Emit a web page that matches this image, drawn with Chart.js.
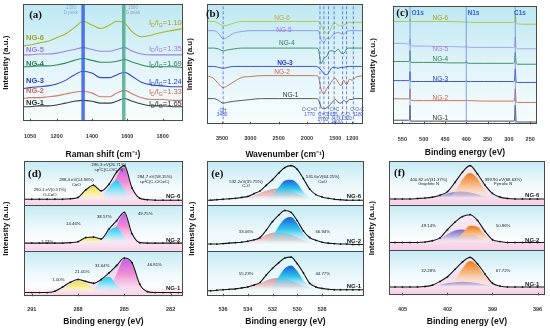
<!DOCTYPE html>
<html>
<head>
<meta charset="utf-8">
<script src="https://cdn.jsdelivr.net/npm/chart.js@4.4.1/dist/chart.umd.min.js"></script>
<style>
  html, body { margin: 0; padding: 0; background: #fff; }
  #figura { position: relative; width: 550px; height: 330px; overflow: hidden; background: #fff; }
  #figura canvas { position: absolute; }
</style>
</head>
<body>
<div id="figura"></div>
<script>
var nomes = ['NG-1', 'NG-2', 'NG-3', 'NG-4', 'NG-5', 'NG-6'];

// (a) Raman
var ramanX = [1010, 1050, 1100, 1150, 1200, 1250, 1300, 1350, 1400, 1450, 1500, 1540, 1585, 1630, 1680, 1740, 1800, 1860, 1915];
var ramanNG1 = [16, 16, 17, 17, 18, 20, 22, 23, 22, 20, 20, 22, 25, 22, 19, 17, 17, 16, 16];
var ramanNG2 = [25, 26, 26, 27, 28, 30, 32, 33, 31, 27, 27, 31, 34, 30, 26, 24, 24, 23, 23];
var ramanNG3 = [36, 37, 38, 39, 41, 45, 51, 55, 53, 48, 48, 51, 54, 49, 43, 40, 39, 38, 38];
var ramanNG4 = [60, 60, 61, 61, 62, 64, 67, 69, 67, 65, 65, 66, 68, 65, 62, 60, 60, 60, 59];
var ramanNG5 = [73, 73, 74, 74, 75, 77, 79, 81, 79, 77, 77, 79, 81, 77, 74, 73, 73, 73, 73];
var ramanNG6 = [83, 84, 86, 88, 92, 96, 103, 110, 106, 102, 106, 110, 108, 98, 93, 95, 98, 100, 102];
var ramanTicks = [1050, 1200, 1400, 1600, 1800];
var ramanPicoD = 1350;
var ramanPicoG = 1580;
var ramanRazao = ['1.65', '1.33', '1.24', '1.69', '1.35', '1.10'];

// (b) FTIR
var ftirX = [3770, 3650, 3560, 3480, 3400, 3300, 3150, 3000, 2800, 2500, 2200, 2000, 1900, 1850, 1800, 1750, 1700, 1650, 1600, 1550, 1500, 1450, 1400, 1350, 1300, 1250, 1200, 1150, 1100, 1010];
var ftirNG1 = [26, 26, 24, 21, 22, 23, 24, 25, 26, 26, 26, 26, 26, 26, 25, 17, 15, 16, 19, 22, 25, 22, 21, 24, 22, 25, 25, 26, 26, 26];
var ftirNG2 = [51, 48, 42, 38, 40, 44, 49, 50, 51, 51, 51, 51, 51, 51, 50, 36, 31, 37, 41, 46, 48, 44, 40, 46, 41, 47, 46, 49, 50, 51];
var ftirNG3 = [61, 61, 60, 59, 60, 61, 61, 61, 61, 61, 61, 61, 61, 61, 60, 57, 53, 52, 56, 60, 60, 59, 60, 60, 61, 61, 61, 61, 61, 61];
var ftirNG4 = [81, 81, 80, 78, 79, 80, 81, 81, 81, 81, 81, 81, 81, 81, 80, 64, 70, 72, 78, 78, 77, 80, 76, 75, 80, 81, 81, 81, 81, 81];
var ftirNG5 = [100, 100, 97, 91, 93, 97, 99, 100, 100, 100, 100, 100, 100, 100, 100, 90, 87, 92, 91, 95, 97, 98, 97, 96, 99, 100, 100, 100, 100, 100];
var ftirNG6 = [110, 110, 108, 105, 106, 108, 110, 110, 110, 110, 110, 110, 110, 110, 110, 106, 100, 97, 99, 106, 108, 106, 105, 106, 108, 109, 109, 109, 109, 109];
var ftirTicks = [3500, 3000, 2500, 2000, 1500, 1200];
var ftirBandas = [3480, 1770, 1700, 1620, 1520, 1370, 1300, 1180];

// (c) XPS survey
var surveyX = [572, 555, 540, 535, 533, 532, 531, 529, 520, 500, 470, 440, 410, 402, 400, 398, 390, 360, 330, 300, 290, 287, 285, 283, 280, 265, 250, 234];
var surveyNG1 = [4.5, 4.5, 4.5, 4.5, 5.5, 21, 5, 3.5, 3.5, 3.5, 3.5, 3.5, 3.5, 3.5, 4.5, 3.5, 3.5, 3.5, 3.5, 3.5, 3.5, 4, 21, 3, 2.5, 2.5, 2.5, 2.5];
var surveyNG2 = [28, 28, 28, 28, 29, 39, 28, 26.5, 26, 26, 26, 26, 26, 26, 27, 26, 26, 25.5, 25.5, 25.5, 25.5, 26, 39, 24.5, 24, 24, 24, 24];
var surveyNG3 = [48, 48, 48, 48, 49, 58, 48, 47, 47, 47, 47, 47, 47, 47, 48, 47, 47, 47, 47, 47, 47, 47.5, 61, 46.5, 46, 46, 46, 46];
var surveyNG4 = [69, 69, 69, 69, 70, 81, 70, 68, 68, 68, 68, 67.5, 67.5, 67.5, 69, 67.5, 67, 67, 67, 67, 67, 68, 79, 67, 66, 66, 66, 66];
var surveyNG5 = [89, 89, 88.5, 88, 89, 94, 88, 86.5, 86, 86, 85.5, 85.5, 85, 85, 86, 85, 84.5, 84.5, 84.5, 84.5, 84.5, 85, 96, 84, 83, 83, 83, 83];
var surveyNG6 = [113, 113, 113, 113, 113.5, 116, 113.5, 113, 113, 113, 113, 113, 112.5, 112.5, 113, 112.5, 112, 112, 112, 112, 112, 112.5, 121, 112, 110.5, 110, 110, 110];
var surveyTicks = [550, 500, 450, 400, 350, 300, 250];
var surveyPicos = [532, 400, 285];

// (d) C1s  (valores por sub-painel, NG-1 / NG-2 / NG-6)
var c1sX = [291.5, 291, 290.5, 290, 289.5, 289, 288.5, 288, 287.5, 287, 286.5, 286, 285.5, 285, 284.5, 284, 283.5, 283, 282.5, 282, 281.5, 281];
var c1sNG1Env = [4, 4, 4, 4, 5.5, 10, 15, 18, 16, 14, 18, 25, 33, 41, 36, 13, 5, 4, 4, 4, 4, 4];
var c1sNG1CO = [4, 4, 4, 4, 5, 8, 13, 16, 14, 9, 5, 4, 4, 4, 4, 4, 4, 4, 4, 4, 4, 4];
var c1sNG1Sp3 = [4, 4, 4, 4, 4, 4, 4, 4, 4.5, 7, 17, 21, 12, 6, 4, 4, 4, 4, 4, 4, 4, 4];
var c1sNG1Sp2 = [4, 4, 4, 4, 4, 4, 4, 4, 4, 4, 5, 9, 24, 40, 35, 13, 5, 4, 4, 4, 4, 4];
var c1sNG2Env = [8, 8, 8, 8, 8, 8, 8.5, 9.5, 14, 14.5, 12.5, 23, 32, 41, 18, 8.5, 8, 8, 8, 8, 8, 8];
var c1sNG2CO = [8, 8, 8, 8, 8, 8, 8, 9, 14, 14, 10, 8, 8, 8, 8, 8, 8, 8, 8, 8, 8, 8];
var c1sNG2Sp3 = [8, 8, 8, 8, 8, 8, 8, 8, 8, 8, 10, 21, 25, 14, 8, 8, 8, 8, 8, 8, 8, 8];
var c1sNG2Sp2 = [8, 8, 8, 8, 8, 8, 8, 8, 8, 8, 8, 9, 27, 40, 16, 8, 8, 8, 8, 8, 8, 8];
var c1sNG6Env = [6, 6, 6, 6, 6, 6, 6.5, 8, 16, 21, 15, 22, 35, 42, 18, 7, 5.5, 5, 5, 5, 5, 5];
var c1sNG6CO = [6, 6, 6, 6, 6, 6, 6, 8, 15, 20, 12, 7, 6, 6, 6, 6, 5.5, 5, 5, 5, 5, 5];
var c1sNG6Sp3 = [6, 6, 6, 6, 6, 6, 6, 6, 6, 6, 9, 19, 26, 16, 7, 6, 5.5, 5, 5, 5, 5, 5];
var c1sNG6Sp2 = [6, 6, 6, 6, 6, 6, 6, 6, 6, 6, 6, 9, 30, 40, 16, 6.5, 5.5, 5, 5, 5, 5, 5];
var c1sTicks = [291, 288, 285, 282];

// (e) O1s
var o1sX = [537.5, 537, 536.5, 536, 535.5, 535, 534.5, 534, 533.5, 533, 532.5, 532, 531.5, 531, 530.5, 530, 529.5, 529, 528.5, 528, 527.5, 527, 526.5, 526, 525.5, 525, 524.5];
var o1sNG1Env = [6, 6, 6.5, 7, 7.5, 8, 9, 10, 12, 15, 23, 30, 36, 41, 42, 35, 25, 14, 10, 8.5, 7.5, 7, 7, 7, 7, 7, 7];
var o1sNG1CO = [6, 6, 6.5, 7, 7.5, 8, 9, 10, 12, 14, 17, 19, 19.5, 19, 17, 14, 11, 9, 8, 7, 7, 7, 7, 7, 7, 7, 7];
var o1sNG1CdO = [6, 6, 6, 6, 6, 6, 6, 6, 6, 6.5, 7, 12, 21, 30, 33, 27, 17, 10, 7.5, 7, 7, 7, 7, 7, 7, 7, 7];
var o1sNG2Env = [7, 7, 7, 7.5, 8, 8.5, 9, 10, 11.5, 14, 22, 31, 38, 43, 41, 32, 21, 14, 11, 9, 8, 7.5, 7, 7, 6.5, 6.5, 6.5];
var o1sNG2CO = [7, 7, 7, 7.5, 8, 8.5, 9, 10, 11.5, 13.5, 17, 19, 20, 19, 17, 14, 11, 9, 8, 7.5, 7, 7, 7, 7, 6.5, 6.5, 6.5];
var o1sNG2CdO = [7, 7, 7, 7, 7, 7, 7, 7, 7, 7.5, 9, 15, 26, 34, 36, 29, 18, 11, 8, 7, 7, 7, 7, 7, 6.5, 6.5, 6.5];
var o1sNG6Env = [5, 5, 5.5, 6, 6.5, 7, 8, 9, 12, 15, 21, 27, 34, 40, 42, 38, 28, 17, 11, 8.5, 7, 6, 5.5, 5, 5, 5, 5];
var o1sNG6CO = [5, 5, 5.5, 6, 6, 6, 7, 8, 10, 13, 15, 17, 17.5, 17, 15, 12, 9, 7, 6, 5.5, 5, 5, 5, 5, 5, 5, 5];
var o1sNG6CdO = [5, 5, 5, 5, 5, 5, 5, 5, 5, 5, 6, 11, 19, 26, 27, 23, 14, 8, 6, 5, 5, 5, 5, 5, 5, 5, 5];
var o1sTicks = [536, 534, 532, 530, 528];

// (f) N1s
var n1sX = [406, 405.5, 405, 404.5, 404, 403.5, 403, 402.5, 402, 401.5, 401, 400.5, 400, 399.5, 399, 398.5, 398, 397.5, 397, 396.5, 396, 395.5];
var n1sNG1Env = [9, 9, 9, 9, 9, 9.5, 11, 15, 20, 28, 36, 41, 34, 23, 13, 10, 9, 9, 9, 9, 9, 9];
var n1sNG1Graf = [9, 9, 9, 9, 9, 9, 10, 11.5, 13, 14, 14.5, 14, 13, 11.5, 10, 9, 9, 9, 9, 9, 9, 9];
var n1sNG1Pirr = [9, 9, 9, 9, 9, 9, 9, 9, 10, 17, 29, 37, 32, 20, 12, 10, 9, 9, 9, 9, 9, 9];
var n1sNG2Env = [8, 8, 8, 8, 8, 8.5, 10, 13, 22, 30, 36, 38, 32, 20, 11, 9, 8, 8, 8, 8, 8, 8];
var n1sNG2Graf = [8, 8, 8, 8, 8, 8, 9, 12, 17, 21, 22, 19, 14, 10, 8, 8, 8, 8, 8, 8, 8, 8];
var n1sNG2Pirr = [8, 8, 8, 8, 8, 8, 8, 8, 8, 10, 18, 26, 25, 16, 10, 8.5, 8, 8, 8, 8, 8, 8];
var n1sNG6Env = [6, 6, 6, 6, 6.5, 7, 8, 10, 14, 24, 35, 42, 33, 21, 12, 8, 6.5, 6, 6, 6, 6, 6];
var n1sNG6Graf = [6, 6, 6, 6, 6, 6.5, 7, 9, 12, 13.5, 14, 13, 11, 8.5, 7, 6, 6, 6, 6, 6, 6, 6];
var n1sNG6Pirr = [6, 6, 6, 6, 6, 6, 6, 6, 7, 14, 27, 34, 28, 15, 8, 6.5, 6, 6, 6, 6, 6, 6];
var n1sTicks = [405, 402, 399, 396];

var offsetSub = [0, 49, 98];   // NG-1, NG-2, NG-6

const SANS = "'Liberation Sans', Arial, sans-serif";
const SERIF = "'Liberation Serif', 'Times New Roman', serif";
Chart.defaults.font.family = SANS;
Chart.defaults.color = '#222';

const coresLinha = ['#3d3d3d', '#d27d62', '#3446cc', '#2f8a5e', '#9c84dc', '#a9b526'];
const coresTexto = ['#333333', '#d0644c', '#2a3ccc', '#2f7d55', '#9f7ae0', '#a3a11c'];

const serie = function (xs, ys, off, extra) {
    return Object.assign({
        data: xs.map((x, i) => ({ x: x, y: ys[i] + off })),
        borderWidth: 1, pointRadius: 0, fill: false,
        tension: 0.4, cubicInterpolationMode: 'monotone', order: 1
    }, extra);
}

const linhasVerticais = function (valores, y0, y1, extra) {
    const pts = [];
    valores.forEach(v => pts.push({ x: v, y: y0 }, { x: v, y: y1 }, { x: v, y: null }));
    return Object.assign({ data: pts, pointRadius: 0, tension: 0, fill: false, order: 0 }, extra);
}

const gradiente = function (stops) {
    return function (c) {
        const ch = c.chart;
        if (!ch.chartArea) return 'transparent';
        const ys = ch.data.datasets[c.datasetIndex].data.map(p => p.y);
        const top = ch.scales.y.getPixelForValue(Math.max(...ys));
        const bot = ch.scales.y.getPixelForValue(Math.min(...ys));
        const g = ch.ctx.createLinearGradient(0, top, 0, bot + 0.01);
        stops.forEach(s => g.addColorStop(s[0], s[1]));
        return g;
    };
}

const conjuntoXPS = function (xs, env, comps, off, estilo) {
    const ds = [serie(xs, env, off, { borderWidth: 0, fill: { value: off }, backgroundColor: gradiente(estilo.fundo), order: 9 })];
    comps.forEach((c, i) => ds.push(serie(xs, c, off, { borderWidth: 0, fill: { value: off }, backgroundColor: gradiente(estilo.comps[i]), order: 8 - i })));
    ds.push(serie(xs, env, off, { borderColor: '#161616', borderWidth: 1.1, pointRadius: 0.9, pointBackgroundColor: '#161616', pointBorderWidth: 0, order: 1 }));
    return ds;
}

const desenharNotas = function (chart, notas) {
    const { ctx, scales } = chart;
    notas.forEach(n => {
        const px = scales.x.getPixelForValue(n.x);
        const py = scales.y.getPixelForValue(n.y);
        const fam = n.serif ? SERIF : SANS;
        const peso = n.w || 'normal';
        ctx.fillStyle = n.c || '#222';
        ctx.textBaseline = 'middle';
        if (n.razao) {
            const partes = [['I', 0], ['D', 1], ['/I', 0], ['G', 1], ['=' + n.razao, 0]];
            const fonte = sub => peso + ' ' + (sub ? n.s * 0.68 : n.s) + 'px ' + fam;
            let total = 0;
            partes.forEach(p => { ctx.font = fonte(p[1]); total += ctx.measureText(p[0]).width; });
            let cx = n.a === 'right' ? px - total : px;
            ctx.textAlign = 'left';
            partes.forEach(p => {
                ctx.font = fonte(p[1]);
                ctx.fillText(p[0], cx, py + (p[1] ? n.s * 0.3 : 0));
                cx += ctx.measureText(p[0]).width;
            });
        } else {
            ctx.font = peso + ' ' + n.s + 'px ' + fam;
            ctx.textAlign = n.a || 'center';
            ctx.fillText(n.t, px, py);
        }
    });
}

const painelPlugin = {
    id: 'painel',
    beforeDatasetsDraw(chart, args, o) {
        const { ctx, chartArea: a, scales: { y } } = chart;
        ctx.save();
        o.faixas.forEach(f => {
            const top = y.getPixelForValue(f[1]), bot = y.getPixelForValue(f[0]);
            const g = ctx.createLinearGradient(0, top, 0, bot);
            o.fundo.forEach(s => g.addColorStop(s[0], s[1]));
            ctx.fillStyle = g;
            ctx.fillRect(a.left, top, a.right - a.left, bot - top);
        });
        ctx.restore();
    },
    afterDatasetsDraw(chart, args, o) {
        const { ctx, chartArea: a, scales: { x, y } } = chart;
        ctx.save();
        ctx.strokeStyle = '#4a4a4a';
        ctx.lineWidth = 1;
        ctx.beginPath();
        (o.divisorias || []).forEach(v => {
            const py = Math.round(y.getPixelForValue(v)) + 0.5;
            ctx.moveTo(a.left, py); ctx.lineTo(a.right, py);
        });
        x.ticks.forEach(t => {
            const px = Math.round(x.getPixelForValue(t.value)) + 0.5;
            ctx.moveTo(px, a.bottom); ctx.lineTo(px, a.bottom - 2.5);
        });
        ctx.stroke();
        ctx.strokeRect(Math.round(a.left) + 0.5, Math.round(a.top) + 0.5, Math.round(a.right - a.left) - 1, Math.round(a.bottom - a.top) - 1);
        desenharNotas(chart, o.notas);
        ctx.restore();
    }
};

const criarPainel = function (p) {
    const c = document.createElement('canvas');
    c.width = p.box.w; c.height = p.box.h;
    c.style.left = p.box.x + 'px'; c.style.top = p.box.y + 'px';
    document.getElementById('figura').appendChild(c);

    const yl = 9.6, xl = 6.6, tl = 10.2;
    const yTop = p.yTitleX - p.box.x - yl / 2;
    const yBot = p.area.l - p.box.x - yl - yTop;
    const tickPad = p.tickY - p.area.b - xl / 2;
    const tTop = p.titleY - tl / 2 - (p.area.b + tickPad + xl);
    const padB = p.box.y + p.box.h - (p.titleY + tl / 2 + 1);

    return new Chart(c, {
        type: 'line',
        data: { datasets: p.datasets },
        options: {
            responsive: false, animation: false, devicePixelRatio: 1,
            layout: { autoPadding: false, padding: { left: 0, top: p.area.t - p.box.y, right: p.box.x + p.box.w - p.area.r, bottom: padB } },
            plugins: {
                legend: { display: false }, tooltip: { enabled: false },
                painel: { fundo: p.fundo, faixas: p.faixas, divisorias: p.divisorias, notas: p.notas }
            },
            scales: {
                x: {
                    type: 'linear', min: p.xMin, max: p.xMax, reverse: p.reverse,
                    grid: { display: false }, border: { display: false },
                    afterBuildTicks: s => { s.ticks = p.ticks.map(v => ({ value: v })); },
                    ticks: { padding: tickPad, autoSkip: false, maxRotation: 0, color: '#333', font: { size: 5.5, weight: 'bold' }, callback: v => String(v) },
                    title: { display: true, text: p.xTitle, color: '#111', font: { size: 8.5, weight: 'bold' }, padding: { top: tTop, bottom: 1 } }
                },
                y: {
                    min: p.yMin, max: p.yMax,
                    grid: { display: false }, border: { display: false }, ticks: { display: false },
                    title: { display: true, text: p.yTitle, color: '#111', font: { size: 8, weight: 'bold' }, padding: { top: yTop, bottom: yBot } }
                }
            }
        },
        plugins: [painelPlugin]
    });
}

const fundoTopo = [[0, '#bfe8f2'], [0.55, '#e3f5fa'], [1, '#f8fdfe']];
const fundoRosa = [[0, '#c4eaf4'], [0.5, '#eef9fc'], [0.8, '#fdfdfe'], [1, '#f6d6e6']];
const fundoAzul = [[0, '#c4eaf4'], [0.6, '#eef9fc'], [1, '#f7fbfd']];

const notasNG = function (xs, ys, tam, alinh, pesos) {
    return nomes.map((n, i) => ({ t: n, x: xs[i], y: ys[i], s: tam, a: alinh, c: coresTexto[i], w: pesos ? pesos[i] : 'bold' }));
}

// ----- (a) -----
const ramanSeries = [ramanNG1, ramanNG2, ramanNG3, ramanNG4, ramanNG5, ramanNG6];
const dsA = ramanSeries.map((s, i) => serie(ramanX, s, 0, { borderColor: coresLinha[i], borderWidth: 1.1 }));
dsA.push(linhasVerticais([ramanPicoD], 0, 129, { borderColor: 'rgba(55,95,225,0.85)', borderWidth: 3.5 }));
dsA.push(linhasVerticais([ramanPicoG], 0, 129, { borderColor: 'rgba(70,165,135,0.8)', borderWidth: 3.5 }));
const notasA = [
    { t: '(a)', x: 1081, y: 117, s: 11, w: 'bold', serif: true, c: '#111' },
    { t: '1350', x: 1281, y: 125, s: 4.5, c: '#86aaf0' },
    { t: 'D peak', x: 1281, y: 119, s: 4.5, c: '#86aaf0' },
    { t: '1580', x: 1632, y: 125, s: 4.5, c: '#93a6ba' },
    { t: 'G peak', x: 1632, y: 119, s: 4.5, c: '#93a6ba' }
].concat(notasNG([1027, 1027, 1027, 1027, 1027, 1027], [20, 33, 44, 63, 78, 92], 7.5, 'left'))
 .concat(ramanRazao.map((r, i) => ({ razao: r, x: 1908, y: [19, 32, 43, 63, 80, 108][i], s: 7.5, a: 'right', c: coresTexto[i] })));

criarPainel({
    box: { x: 0, y: 0, w: 185, h: 166 }, area: { l: 15, t: 4, r: 183, b: 133 },
    yTitleX: 6, tickY: 140, titleY: 155,
    xMin: 1010, xMax: 1915, reverse: false, yMin: 0, yMax: 129, ticks: ramanTicks,
    xTitle: 'Raman shift (cm⁻¹)', yTitle: 'Intensity (a.u.)',
    datasets: dsA, fundo: fundoTopo, faixas: [[0, 129]], notas: notasA
});

// ----- (b) -----
const ftirSeries = [ftirNG1, ftirNG2, ftirNG3, ftirNG4, ftirNG5, ftirNG6];
const coresB = ['#4a4a4a', '#c0694a', '#2f3fd0', '#2e8b5a', '#8f8fe8', '#aac83a'];
const dsB = ftirSeries.map((s, i) => serie(ftirX, s, 0, { borderColor: coresB[i], borderWidth: 0.9 }));
dsB.push(linhasVerticais(ftirBandas, -2, 129, { borderColor: '#3a50d0', borderWidth: 0.7, borderDash: [3, 2] }));
const azulB = '#3c56cf';
const notasB = [
    { t: '(b)', x: 3665, y: 118, s: 11, w: 'bold', serif: true, c: '#111' },
    { t: '-OH', x: 3497, y: 13, s: 4.8, c: azulB }, { t: '3480', x: 3497, y: 8, s: 4.8, c: azulB },
    { t: 'O-C=O', x: 1953, y: 14, s: 4.8, c: azulB }, { t: '1770', x: 1953, y: 9, s: 4.8, c: azulB },
    { t: 'C=O', x: 1718, y: 8, s: 4.8, c: azulB }, { t: '1700', x: 1718, y: 3, s: 4.8, c: azulB },
    { t: 'C=C', x: 1517, y: 14, s: 4.8, c: azulB }, { t: '1655', x: 1550, y: 9, s: 4.8, c: azulB },
    { t: 'C-N', x: 1483, y: 5, s: 4.8, c: azulB }, { t: '1400', x: 1483, y: 1, s: 4.8, c: azulB },
    { t: 'C-O', x: 1316, y: 9, s: 4.8, c: azulB }, { t: '1320', x: 1299, y: 4, s: 4.8, c: azulB },
    { t: 'C-O-C', x: 1114, y: 14, s: 4.8, c: azulB }, { t: '1180', x: 1097, y: 9, s: 4.8, c: azulB }
].concat(notasNG([2289, 2440, 2389, 2356, 2406, 2440], [30, 55, 65, 86, 100, 113], 6.5, 'center',
    ['normal', 'normal', 'bold', 'normal', 'normal', 'normal']));
notasB[notasB.length - 1].c = '#c9a63a';

criarPainel({
    box: { x: 184, y: 0, w: 182, h: 166 }, area: { l: 199, t: 4, r: 363, b: 135 },
    yTitleX: 190, tickY: 141, titleY: 155,
    xMin: 1010, xMax: 3765, reverse: true, yMin: -2, yMax: 129, ticks: ftirTicks,
    xTitle: 'Wavenumber (cm⁻¹)', yTitle: 'Intensity (a.u)',
    datasets: dsB, fundo: fundoTopo, faixas: [[-2, 129]], notas: notasB
});

// ----- (c) -----
const surveySeries = [surveyNG1, surveyNG2, surveyNG3, surveyNG4, surveyNG5, surveyNG6];
const coresC = ['#3a3a4a', '#c9684c', '#3344cc', '#2f8a5b', '#a59ae6', '#a8c43c'];
const dsC = surveySeries.map((s, i) => serie(surveyX, s, 0, { borderColor: coresC[i], borderWidth: 0.9, tension: 0.2 }));
dsC.push(linhasVerticais(surveyPicos, 0, 130, { borderColor: '#6a88e2', borderWidth: 0.8 }));
const notasC = [
    { t: '(c)', x: 550, y: 122, s: 11, w: 'bold', serif: true, c: '#111' },
    { t: 'O1s', x: 514, y: 122, s: 6.5, w: 'bold', c: '#2f62d6' },
    { t: 'N1s', x: 383, y: 122, s: 6.5, w: 'bold', c: '#2f62d6' },
    { t: 'C1s', x: 274, y: 122, s: 6.5, w: 'bold', c: '#2f62d6' }
].concat(notasNG([461, 461, 461, 461, 461, 461], [7, 29, 50, 71, 83, 117], 6.5, 'center',
    ['normal', 'normal', 'normal', 'normal', 'normal', 'normal']));

criarPainel({
    box: { x: 364, y: 0, w: 186, h: 166 }, area: { l: 385, t: 6, r: 537, b: 136 },
    yTitleX: 373, tickY: 143, titleY: 153,
    xMin: 234, xMax: 572, reverse: true, yMin: 0, yMax: 130, ticks: surveyTicks,
    xTitle: 'Binding energy (eV)', yTitle: 'Intensity (a.u.)',
    datasets: dsC, fundo: fundoTopo, faixas: [[0, 130]], notas: notasC
});

// ----- (d) -----
const estiloD = {
    fundo: [[0, 'rgba(236,150,215,0.45)'], [1, 'rgba(248,205,230,0.4)']],
    comps: [
        [[0, '#c55fe0'], [0.45, '#ef8fd6'], [1, 'rgba(250,200,235,0)']],
        [[0, '#1cc9f2'], [0.5, '#8ee6f7'], [1, 'rgba(220,248,252,0)']],
        [[0, '#efe04a'], [0.5, '#f7ef9a'], [1, 'rgba(255,252,220,0)']]
    ]
};
const dsD = [].concat(
    conjuntoXPS(c1sX, c1sNG1Env, [c1sNG1Sp2, c1sNG1Sp3, c1sNG1CO], offsetSub[0], estiloD),
    conjuntoXPS(c1sX, c1sNG2Env, [c1sNG2Sp2, c1sNG2Sp3, c1sNG2CO], offsetSub[1], estiloD),
    conjuntoXPS(c1sX, c1sNG6Env, [c1sNG6Sp2, c1sNG6Sp3, c1sNG6CO], offsetSub[2], estiloD)
);
const pq = 4.3;
const notasD = [
    { t: '(d)', x: 290.8, y: 131, s: 11, w: 'bold', serif: true, c: '#111' },
    { t: '290.1 eV(0.17%)', x: 289.83, y: 114, s: pq }, { t: 'O-C=O', x: 289.83, y: 109, s: pq },
    { t: '288.4 eV(14.96%)', x: 288.1, y: 125, s: pq }, { t: 'C=O', x: 288.1, y: 120, s: pq },
    { t: '286.3 eV(26.71%)', x: 286.0, y: 141, s: pq }, { t: 'sp³C(C-O/C-N)', x: 286.0, y: 136, s: pq },
    { t: '284.7 eV(58.15%)', x: 283.04, y: 128, s: pq }, { t: 'sp²C(C-C/C=C)', x: 283.04, y: 123, s: pq },
    { t: 'NG-6', x: 281.37, y: 107, s: 6, w: 'bold', a: 'right' },
    { t: '1.23%', x: 290.0, y: 58, s: pq }, { t: '14.46%', x: 288.3, y: 78, s: pq },
    { t: '38.57%', x: 286.3, y: 85, s: pq }, { t: '49.75%', x: 283.65, y: 88, s: pq },
    { t: 'NG-2', x: 281.37, y: 60, s: 6, w: 'bold', a: 'right' },
    { t: '1.00%', x: 289.27, y: 18, s: pq }, { t: '21.05%', x: 287.73, y: 26, s: pq },
    { t: '31.64%', x: 286.43, y: 33, s: pq }, { t: '46.81%', x: 283.04, y: 34, s: pq },
    { t: 'NG-1', x: 281.37, y: 9, s: 6, w: 'bold', a: 'right' }
];
criarPainel({
    box: { x: 0, y: 158, w: 185, h: 172 }, area: { l: 16, t: 161, r: 183, b: 306 },
    yTitleX: 6, tickY: 311, titleY: 322,
    xMin: 281.2, xMax: 291.5, reverse: true, yMin: 0, yMax: 145, ticks: c1sTicks,
    xTitle: 'Binding energy (eV)', yTitle: 'Intensity (a.u.)',
    datasets: dsD, fundo: fundoRosa, faixas: [[0, 49], [49, 98], [98, 145]], divisorias: [49, 98], notas: notasD
});

// ----- (e) -----
const estiloE = {
    fundo: [[0, 'rgba(222,247,252,0.95)'], [1, 'rgba(238,250,253,0.6)']],
    comps: [
        [[0, '#d49e9e'], [0.6, '#eccaca'], [1, 'rgba(250,235,235,0)']],
        [[0, '#1d5fd9'], [0.45, '#2fc4ef'], [1, 'rgba(210,245,252,0)']]
    ]
};
const dsE = [].concat(
    conjuntoXPS(o1sX, o1sNG1Env, [o1sNG1CO, o1sNG1CdO], offsetSub[0], estiloE),
    conjuntoXPS(o1sX, o1sNG2Env, [o1sNG2CO, o1sNG2CdO], offsetSub[1], estiloE),
    conjuntoXPS(o1sX, o1sNG6Env, [o1sNG6CO, o1sNG6CdO], offsetSub[2], estiloE)
);
const notasE = [
    { t: '(e)', x: 536.47, y: 131, s: 11, w: 'bold', serif: true, c: '#111' },
    { t: '532.2eV(35.75%)', x: 534.14, y: 123, s: pq }, { t: 'C-O', x: 534.14, y: 118, s: pq },
    { t: '531.6eV(64.25%)', x: 527.94, y: 128, s: pq }, { t: 'C=O', x: 527.94, y: 123, s: pq },
    { t: 'NG-6', x: 524.84, y: 107, s: 6, w: 'bold', a: 'right' },
    { t: '33.06%', x: 534.14, y: 69, s: pq }, { t: '66.94%', x: 527.94, y: 69, s: pq },
    { t: 'NG-2', x: 524.84, y: 59, s: 6, w: 'bold', a: 'right' },
    { t: '55.23%', x: 534.14, y: 24, s: pq }, { t: '44.77%', x: 527.94, y: 24, s: pq },
    { t: 'NG-1', x: 524.84, y: 11, s: 6, w: 'bold', a: 'right' }
];
criarPainel({
    box: { x: 184, y: 158, w: 182, h: 172 }, area: { l: 199, t: 161, r: 364, b: 306 },
    yTitleX: 192, tickY: 311, titleY: 322,
    xMin: 524.6, xMax: 537.3, reverse: true, yMin: 0, yMax: 145, ticks: o1sTicks,
    xTitle: 'Binding energy (eV)', yTitle: 'Intensity (a.u.)',
    datasets: dsE, fundo: fundoAzul, faixas: [[0, 49], [49, 98], [98, 145]], divisorias: [49, 98], notas: notasE
});

// ----- (f) -----
const estiloF = {
    fundo: [[0, 'rgba(252,236,243,0.9)'], [1, 'rgba(245,200,225,0.55)']],
    comps: [
        [[0, '#7a6cc4'], [0.6, '#c3bce6'], [1, 'rgba(240,238,250,0)']],
        [[0, '#f07a1a'], [0.5, '#f6c18f'], [1, 'rgba(255,240,225,0)']]
    ]
};
const dsF = [].concat(
    conjuntoXPS(n1sX, n1sNG1Env, [n1sNG1Graf, n1sNG1Pirr], offsetSub[0], estiloF),
    conjuntoXPS(n1sX, n1sNG2Env, [n1sNG2Graf, n1sNG2Pirr], offsetSub[1], estiloF),
    conjuntoXPS(n1sX, n1sNG6Env, [n1sNG6Graf, n1sNG6Pirr], offsetSub[2], estiloF)
);
const notasF = [
    { t: '(f)', x: 405.2, y: 132, s: 11, w: 'bold', serif: true, c: '#111' },
    { t: '400.82 eV(31.37%)', x: 403.26, y: 125, s: pq }, { t: 'Graphite N', x: 403.26, y: 120, s: pq },
    { t: '399.90 eV(68.63%)', x: 398.29, y: 125, s: pq }, { t: 'Pyrrolic N', x: 398.29, y: 120, s: pq },
    { t: 'NG-6', x: 395.87, y: 108, s: 6, w: 'bold', a: 'right' },
    { t: '49.14%', x: 403.26, y: 75, s: pq }, { t: '50.86%', x: 398.29, y: 75, s: pq },
    { t: 'NG-2', x: 395.87, y: 59, s: 6, w: 'bold', a: 'right' },
    { t: '32.28%', x: 403.26, y: 26, s: pq }, { t: '67.72%', x: 398.29, y: 26, s: pq },
    { t: 'NG-1', x: 395.87, y: 12, s: 6, w: 'bold', a: 'right' }
];
criarPainel({
    box: { x: 364, y: 158, w: 186, h: 172 }, area: { l: 381, t: 161, r: 545, b: 306 },
    yTitleX: 372, tickY: 312, titleY: 322,
    xMin: 395.5, xMax: 405.9, reverse: true, yMin: 0, yMax: 145, ticks: n1sTicks,
    xTitle: 'Binding energy (eV)', yTitle: 'Intensity (a.u.)',
    datasets: dsF, fundo: fundoRosa, faixas: [[0, 49], [49, 98], [98, 145]], divisorias: [49, 98], notas: notasF
});
</script>
</body>
</html>
